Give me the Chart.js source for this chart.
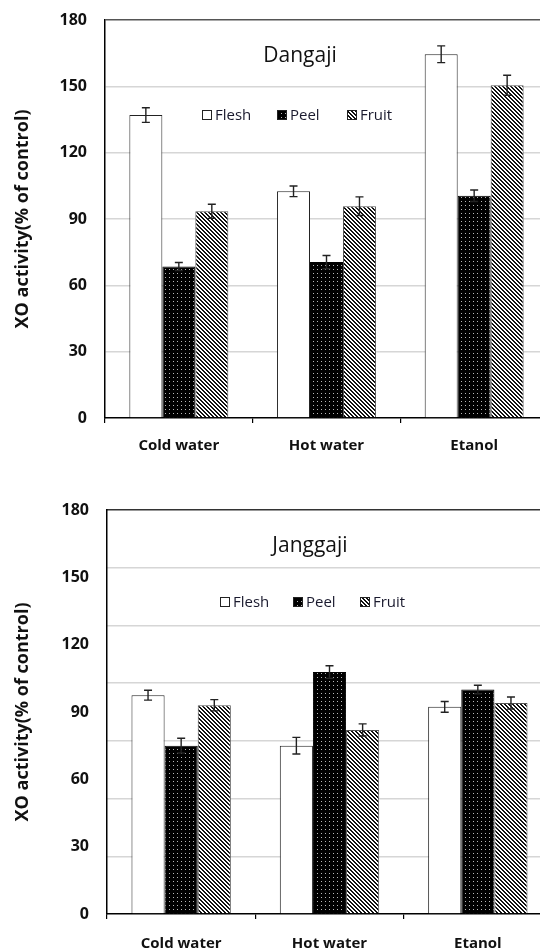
<!DOCTYPE html>
<html><head><meta charset="utf-8">
<script src="https://cdn.jsdelivr.net/npm/chart.js@4.4.0/dist/chart.umd.min.js"></script>
<style>
html,body{margin:0;padding:0;background:#fff;width:540px;height:949px;overflow:hidden;}
#wrap{position:relative;width:540px;height:949px;overflow:hidden;background:#fff;}
#c1{position:absolute;left:0;top:0;width:548px;height:470px;}
#c2{position:absolute;left:0;top:480px;width:552px;height:469px;}
</style></head><body>
<div id="wrap"><canvas id="c1" width="548" height="470"></canvas><canvas id="c2" width="552" height="469"></canvas></div>
<script>
// ---- data ----
const categories = ['Cold water', 'Hot water', 'Etanol'];
const seriesNames = ['Flesh', 'Peel', 'Fruit'];
const yMin = 0, yMax = 180, yStep = 30;
const chartTitles = ['Dangaji', 'Janggaji'];
const yAxisTitle = 'XO activity(% of control)';

const dangajiFlesh = [137, 102.5, 164.5];
const dangajiPeel = [68.5, 70.5, 100.5];
const dangajiFruit = [93.5, 95.8, 150.5];
const dangajiFleshErr = [3.3, 2.4, 3.8];
const dangajiPeelErr = [1.8, 3.0, 2.6];
const dangajiFruitErr = [3.2, 4.2, 4.5];

const janggajiFlesh = [97.5, 75, 92.3];
const janggajiPeel = [75, 107.8, 100];
const janggajiFruit = [93, 82, 94];
const janggajiFleshErr = [2.2, 3.7, 2.4];
const janggajiPeelErr = [3.3, 2.8, 1.9];
const janggajiFruitErr = [2.5, 2.7, 2.7];

// ---- styles ----
Chart.defaults.font.family = "'Open Sans', sans-serif";
Chart.defaults.color = '#111';

function makePattern(kind) {
  const pc = document.createElement('canvas');
  pc.width = 4; pc.height = 4;
  const g = pc.getContext('2d');
  if (kind === 'dots') {
    g.fillStyle = '#000'; g.fillRect(0, 0, 4, 4);
    g.fillStyle = '#b8b8b8'; g.fillRect(1, 1, 1, 1);
  } else {
    g.fillStyle = '#fff'; g.fillRect(0, 0, 4, 4);
    g.fillStyle = '#111';
    for (let y = 0; y < 4; y++) for (let x = 0; x < 4; x++) {
      const d = ((x - y) % 4 + 4) % 4;
      if (d === 0 || d === 1) g.fillRect(x, y, 1, 1);
    }
  }
  return document.createElement('canvas').getContext('2d').createPattern(pc, 'repeat');
}
const fills = ['#ffffff', makePattern('dots'), makePattern('stripes')];
const borders = ['#222', '#000', '#555'];

const decorPlugin = {
  id: 'decor',
  afterDatasetsDraw(chart, args, opts) {
    const ctx = chart.ctx;
    const ys = chart.scales.y;
    chart.data.datasets.forEach((ds, i) => {
      const meta = chart.getDatasetMeta(i);
      meta.data.forEach((bar, j) => {
        const v = ds.data[j], e = ds.errors[j];
        const x = bar.x;
        const yT = ys.getPixelForValue(v + e), yB = ys.getPixelForValue(v - e);
        ctx.save();
        ctx.strokeStyle = '#222'; ctx.lineWidth = 1.4;
        ctx.beginPath();
        ctx.moveTo(x, yT); ctx.lineTo(x, yB);
        ctx.moveTo(x - 4, yT); ctx.lineTo(x + 4, yT);
        ctx.moveTo(x - 4, yB); ctx.lineTo(x + 4, yB);
        ctx.stroke();
        ctx.restore();
      });
    });
    // inner title
    ctx.save();
    ctx.fillStyle = '#111';
    ctx.font = "21px 'Open Sans', sans-serif";
    ctx.textAlign = 'center'; ctx.textBaseline = 'alphabetic';
    ctx.fillText(opts.title, opts.titleX, opts.titleY);
    // legend
    ctx.font = "15px 'Open Sans', sans-serif";
    ctx.textAlign = 'left';
    chart.data.datasets.forEach((ds, i) => {
      const bx = opts.legendX[i], by = opts.legendY;
      ctx.fillStyle = ds.backgroundColor;
      ctx.fillRect(bx, by, 9, 9);
      ctx.strokeStyle = '#222'; ctx.lineWidth = 1;
      ctx.strokeRect(bx + 0.5, by + 0.5, 9, 9);
      ctx.fillStyle = '#1a1a2e';
      ctx.fillText(ds.label, bx + 13, by + 10);
    });
    ctx.restore();
  }
};

function buildChart(id, title, series, errs, opt) {
  const datasets = series.map((d, i) => ({
    label: seriesNames[i],
    data: d,
    errors: errs[i],
    backgroundColor: fills[i],
    borderColor: borders[i],
    borderWidth: 1,
    categoryPercentage: 0.67,
    barPercentage: 1.0
  }));
  const scales = {
    x: {
      offset: true,
      grid: { offset: true, drawOnChartArea: false, drawTicks: true, tickLength: 5, color: '#000', lineWidth: 1.2 },
      border: { color: '#000', width: 1.5 },
      ticks: { font: { size: 15, weight: 'bold' }, color: '#111', padding: opt.xPad },
      afterFit: s => { s.height = opt.xH; s.paddingLeft = 0; s.paddingRight = 0; }
    },
    y: {
      min: yMin, max: yMax,
      ticks: { stepSize: yStep, font: { size: 16, weight: 'bold' }, color: '#111', padding: 18 },
      grid: {
        drawOnChartArea: !opt.altGrid, drawTicks: false, lineWidth: 1.5,
        color: c => c.tick.value === yMax ? '#555' : (c.tick.value === yMin ? 'rgba(0,0,0,0)' : '#d6d6d6')
      },
      border: { color: '#000', width: 1.5 },
      title: { display: true, text: yAxisTitle, font: { size: 18, weight: 'bold' }, color: '#111', padding: { top: 12, bottom: 0 } },
      afterFit: s => { s.width = opt.yW; s.paddingTop = 0; s.paddingBottom = 0; }
    }
  };
  if (opt.altGrid) {
    scales.y2 = {
      position: 'right', min: yMin, max: yMax,
      ticks: { display: false, count: 8 },
      grid: {
        drawTicks: false, lineWidth: 1.5,
        color: c => c.index === 7 ? '#333' : (c.index === 0 ? 'rgba(0,0,0,0)' : '#d6d6d6')
      },
      border: { display: false },
      afterFit: s => { s.width = 0; s.paddingTop = 0; s.paddingBottom = 0; }
    };
  }
  return new Chart(document.getElementById(id), {
    type: 'bar',
    data: { labels: categories, datasets },
    options: {
      responsive: false, animation: false,
      layout: { padding: { top: opt.top, right: 0, bottom: 0, left: 0 } },
      plugins: {
        legend: { display: false }, tooltip: { enabled: false },
        decor: { title, titleX: opt.titleX, titleY: opt.titleY, legendX: opt.legendX, legendY: opt.legendY }
      },
      scales
    },
    plugins: [decorPlugin]
  });
}

buildChart('c1', chartTitles[0],
  [dangajiFlesh, dangajiPeel, dangajiFruit],
  [dangajiFleshErr, dangajiPeelErr, dangajiFruitErr],
  { top: 20, xH: 52, yW: 105, xPad: 14, altGrid: false, titleX: 300, titleY: 62, legendX: [202, 277, 347], legendY: 110 });

buildChart('c2', chartTitles[1],
  [janggajiFlesh, janggajiPeel, janggajiFruit],
  [janggajiFleshErr, janggajiPeelErr, janggajiFruitErr],
  { top: 30, xH: 35, yW: 107, xPad: 16, altGrid: true, titleX: 310, titleY: 72, legendX: [220, 293, 360], legendY: 117 });
</script>
</body></html>
